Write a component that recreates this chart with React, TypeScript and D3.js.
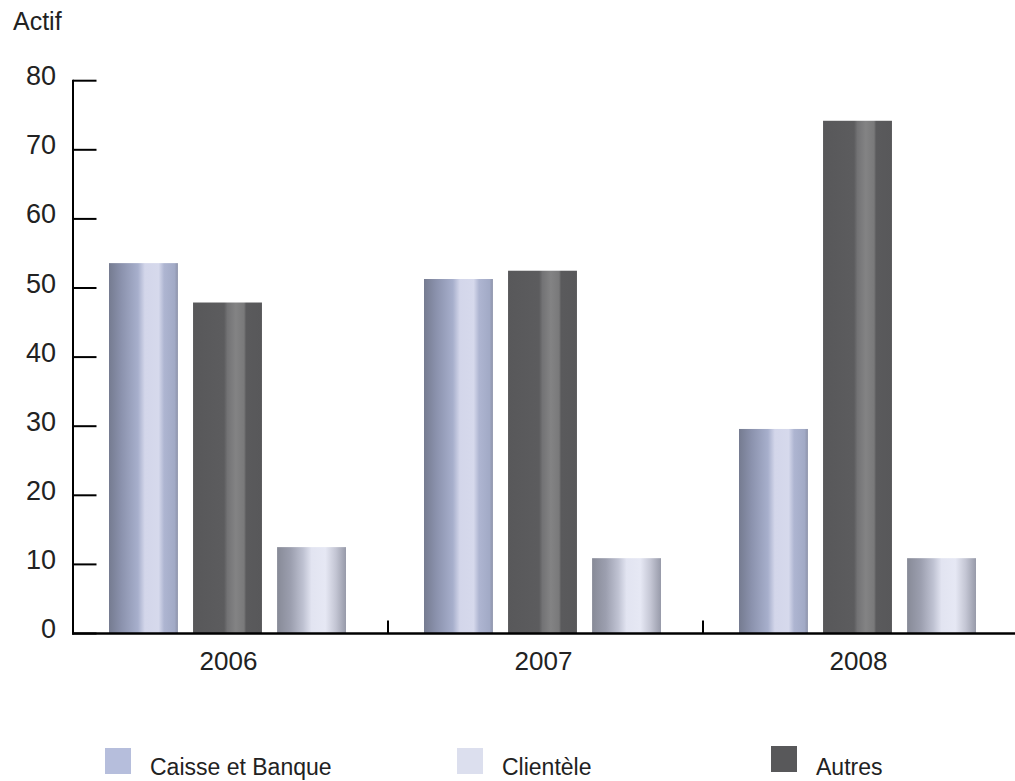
import React from "react";
import * as d3 from "d3";

// Years on the category axis
const years: string[] = ["2006", "2007", "2008"];
// Bar order inside each year group
const barOrder: string[] = ["Caisse et Banque", "Autres", "Clientèle"];
// Values per series, one per year
const caisseValues: number[] = [53.6, 51.3, 29.6];
const autresValues: number[] = [47.9, 52.5, 74.2];
const clienteleValues: number[] = [12.5, 10.9, 10.9];
// Y axis ticks
const yTicks: number[] = [0, 10, 20, 30, 40, 50, 60, 70, 80];
// Legend order
const legendOrder: string[] = ["Caisse et Banque", "Clientèle", "Autres"];

const seriesValues: Record<string, number[]> = {
  "Caisse et Banque": caisseValues,
  Autres: autresValues,
  "Clientèle": clienteleValues,
};

const gradientId: Record<string, string> = {
  "Caisse et Banque": "grad-caisse",
  Autres: "grad-autres",
  "Clientèle": "grad-clientele",
};

const legendColor: Record<string, string> = {
  "Caisse et Banque": "#b6bedc",
  "Clientèle": "#dcdfee",
  Autres: "#58585a",
};

const FONT = "'Liberation Sans', Arial, Helvetica, sans-serif";

export default function App() {
  const width = 1015;
  const height = 781;

  const axisX = 73;
  const y = d3.scaleLinear().domain([0, 80]).range([633.5, 80.7]);
  const x0 = d3.scaleBand<string>().domain(years).range([axisX, 1018]).padding(0);
  const x1 = d3
    .scaleBand<string>()
    .domain(barOrder)
    .range([36, 273])
    .paddingInner(0.18)
    .paddingOuter(0);

  const bars = years.flatMap((yr, i) =>
    barOrder.map((s) => ({ year: yr, series: s, value: seriesValues[s][i] }))
  );

  const legendX: Record<string, number> = {
    "Caisse et Banque": 105,
    "Clientèle": 457,
    Autres: 771,
  };

  return (
    <svg
      width={width}
      height={height}
      viewBox={`0 0 ${width} ${height}`}
      style={{ position: "absolute", left: 0, top: 0, background: "#fff" }}
    >
      <defs>
        <linearGradient id="grad-caisse" x1="0" x2="1" y1="0" y2="0">
          <stop offset="0" stopColor="#757b90" />
          <stop offset="0.18" stopColor="#8b92ad" />
          <stop offset="0.42" stopColor="#a7afcc" />
          <stop offset="0.52" stopColor="#d3d6ea" />
          <stop offset="0.72" stopColor="#d6d9ec" />
          <stop offset="0.8" stopColor="#aeb5d1" />
          <stop offset="0.95" stopColor="#a2aac6" />
          <stop offset="1" stopColor="#8d93aa" />
        </linearGradient>
        <linearGradient id="grad-autres" x1="0" x2="1" y1="0" y2="0">
          <stop offset="0" stopColor="#58585a" />
          <stop offset="0.45" stopColor="#5c5c5e" />
          <stop offset="0.5" stopColor="#737375" />
          <stop offset="0.62" stopColor="#838384" />
          <stop offset="0.74" stopColor="#79797a" />
          <stop offset="0.77" stopColor="#5a5a5c" />
          <stop offset="1" stopColor="#58585a" />
        </linearGradient>
        <linearGradient id="grad-clientele" x1="0" x2="1" y1="0" y2="0">
          <stop offset="0" stopColor="#878a97" />
          <stop offset="0.2" stopColor="#9c9faf" />
          <stop offset="0.38" stopColor="#bfc2d2" />
          <stop offset="0.5" stopColor="#e2e4f1" />
          <stop offset="0.7" stopColor="#e6e8f4" />
          <stop offset="0.85" stopColor="#c4c6d4" />
          <stop offset="1" stopColor="#979aa9" />
        </linearGradient>
      </defs>

      {/* Title of the value axis */}
      <text x={13} y={30} fontFamily={FONT} fontSize={25} fill="#222">
        Actif
      </text>

      {/* Bars */}
      {bars.map((b) => {
        const bx = (x0(b.year) as number) + (x1(b.series) as number);
        const by = y(b.value);
        return (
          <rect
            key={`${b.year}-${b.series}`}
            x={bx}
            y={by}
            width={x1.bandwidth()}
            height={y(0) - by}
            fill={`url(#${gradientId[b.series]})`}
          />
        );
      })}

      {/* Y axis line and inward ticks */}
      <line x1={axisX} x2={axisX} y1={y(80) - 1} y2={y(0) + 1} stroke="#000" strokeWidth={2} />
      {yTicks.map((t) => (
        <g key={t}>
          <line x1={axisX} x2={axisX + 23.5} y1={y(t)} y2={y(t)} stroke="#000" strokeWidth={2} />
          <text
            x={56}
            y={y(t) + 4.5}
            textAnchor="end"
            fontFamily={FONT}
            fontSize={27}
            fill="#222"
          >
            {t}
          </text>
        </g>
      ))}

      {/* X axis baseline, group separators and year labels */}
      <line x1={axisX - 1} x2={width} y1={y(0)} y2={y(0)} stroke="#000" strokeWidth={2.4} />
      {years.slice(1).map((yr) => (
        <line
          key={yr}
          x1={x0(yr) as number}
          x2={x0(yr) as number}
          y1={y(0)}
          y2={y(0) - 13}
          stroke="#000"
          strokeWidth={2}
        />
      ))}
      {years.map((yr) => (
        <text
          key={yr}
          x={(x0(yr) as number) + x0.bandwidth() / 2 - 2}
          y={669.5}
          textAnchor="middle"
          fontFamily={FONT}
          fontSize={26}
          fill="#222"
        >
          {yr}
        </text>
      ))}

      {/* Legend */}
      {legendOrder.map((s) => (
        <g key={s}>
          <rect
            x={legendX[s]}
            y={s === "Autres" ? 746 : 748}
            width={26}
            height={26}
            fill={legendColor[s]}
          />
          <text
            x={legendX[s] + 45}
            y={775}
            fontFamily={FONT}
            fontSize={23}
            fill="#222"
          >
            {s}
          </text>
        </g>
      ))}
    </svg>
  );
}
